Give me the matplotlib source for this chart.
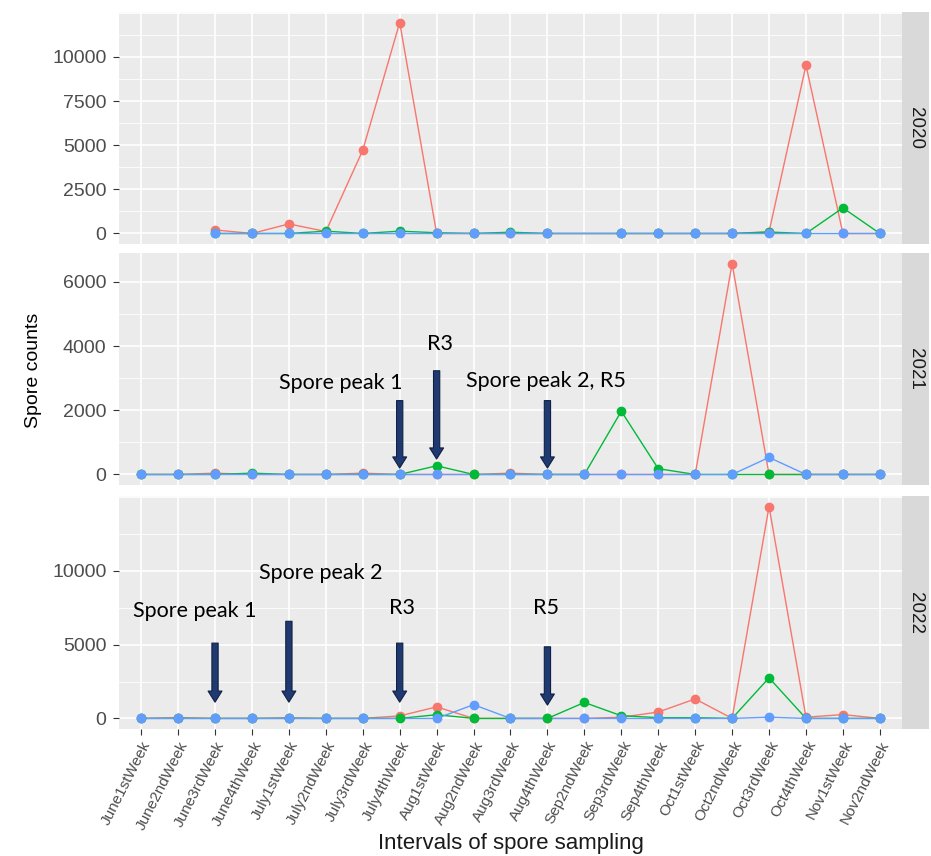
import numpy as np
import matplotlib
matplotlib.use('Agg')
import matplotlib.pyplot as plt

nan = np.nan

# sampling intervals (x categories)
weeks = ['June1stWeek', 'June2ndWeek', 'June3rdWeek', 'June4thWeek',
         'July1stWeek', 'July2ndWeek', 'July3rdWeek', 'July4thWeek',
         'Aug1stWeek', 'Aug2ndWeek', 'Aug3rdWeek', 'Aug4thWeek',
         'Sep2ndWeek', 'Sep3rdWeek', 'Sep4thWeek', 'Oct1stWeek',
         'Oct2ndWeek', 'Oct3rdWeek', 'Oct4thWeek', 'Nov1stWeek', 'Nov2ndWeek']
years = ['2020', '2021', '2022']

red_2020 = [nan, nan, 200, 0, 540, 110, 4720, 11950, 0, 0, 0, 0, nan, 0, 0, 0, 0, 90, 9530, 0, 0]
green_2020 = [nan, nan, 0, 0, 0, 130, 0, 130, 40, 0, 70, 0, nan, 0, 0, 0, 0, 80, 0, 1450, 0]
blue_2020 = [nan, nan, 0, 0, 0, 0, 0, 0, 0, 0, 0, 0, nan, 0, 0, 0, 0, 0, 0, 0, 0]

red_2021 = [0, 0, 40, 0, 0, 0, 40, 0, 0, 0, 40, 0, 0, 0, 0, 0, 6570, 0, 0, 0, 0]
green_2021 = [0, 0, 0, 40, 0, 0, 0, 0, 270, 0, 0, 0, 0, 1970, 180, 0, 0, 0, 0, 0, 0]
blue_2021 = [0, 0, 0, 0, 0, 0, 0, 0, 0, nan, 0, 0, 0, 0, 0, 0, 0, 530, 0, 0, 0]

red_2022 = [0, 60, 0, 0, 50, 0, 0, 170, 780, 0, 0, 0, 0, 80, 430, 1320, 0, 14350, 80, 260, 0]
green_2022 = [0, 0, 0, 0, 0, 0, 0, 0, 250, 0, 0, 0, 1080, 180, 50, 50, 0, 2750, 0, 0, 0]
blue_2022 = [0, 0, 0, 0, 0, 0, 0, nan, 0, 930, 0, nan, 0, 0, 0, 0, 0, 80, 0, 0, 0]

y_ticks = {'2020': [0, 2500, 5000, 7500, 10000],
           '2021': [0, 2000, 4000, 6000],
           '2022': [0, 5000, 10000]}

series = {'2020': [red_2020, green_2020, blue_2020],
          '2021': [red_2021, green_2021, blue_2021],
          '2022': [red_2022, green_2022, blue_2022]}
colors = ['#F8766D', '#00BA38', '#619CFF']

# annotations: (text, week, y) and arrows: (week, y_tail, y_head)
notes = {
    '2021': {'text': [('Spore peak 1', 5.4, 2860), ('R3', 8.08, 4060), ('Spore peak 2, R5', 10.95, 2920)],
             'arrows': [(7, 2300, 200), (8, 3230, 480), (11, 2300, 200)]},
    '2022': {'text': [('Spore peak 1', 1.45, 7250), ('Spore peak 2', 4.85, 9820),
                      ('R3', 7.05, 7460), ('R5', 10.95, 7460)],
             'arrows': [(2, 5100, 1100), (4, 6580, 1100), (7, 5100, 1100), (11, 4850, 900)]},
}

GG = 'Liberation Sans'
plt.rcParams['font.family'] = GG
fig = plt.figure(figsize=(9.31, 8.56), dpi=100)

W, H = 931, 856
left, right = 119, 902
panels = [(12, 244), (253, 485), (496, 729)]
x = np.arange(len(weeks))

for i, (yr, (top, bot)) in enumerate(zip(years, panels)):
    ax = fig.add_axes([left / W, 1 - bot / H, (right - left) / W, (bot - top) / H])
    ax.set_facecolor('#EBEBEB')
    for s in ax.spines.values():
        s.set_visible(False)

    vals = np.array(series[yr], dtype=float)
    lo, hi = np.nanmin(vals), np.nanmax(vals)
    pad = 0.05 * (hi - lo)
    ax.set_ylim(lo - pad, hi + pad)
    ax.set_xlim(-0.6, len(weeks) - 0.4)

    ticks = y_ticks[yr]
    step = ticks[1] - ticks[0]
    minors = np.arange(ticks[0] + step / 2, hi + pad, step)
    majors_all = np.arange(ticks[0], hi + pad, step)
    for m in minors:
        ax.axhline(m, color='white', lw=0.6, zorder=0)
    for m in majors_all:
        ax.axhline(m, color='white', lw=1.2, zorder=0)
    for xi in x:
        ax.axvline(xi, color='white', lw=1.2, zorder=0)

    for v, c in zip(series[yr], colors):
        v = np.array(v, dtype=float)
        m = ~np.isnan(v)
        ax.plot(x[m], v[m], color=c, lw=1.0, zorder=2)
    for v, c in zip(series[yr], colors):
        v = np.array(v, dtype=float)
        m = ~np.isnan(v)
        ax.plot(x[m], v[m], 'o', color=c, ms=6, zorder=3)

    ax.set_yticks(ticks)
    ax.set_yticklabels([str(t) for t in ticks], fontfamily=GG)
    ax.tick_params(axis='y', length=4, color='#333333', labelcolor='#4D4D4D', labelsize=14, pad=5)
    ax.set_xticks(x)
    if i == 2:
        ax.set_xticklabels(weeks, rotation=63, ha='right', va='top', rotation_mode='anchor', fontfamily=GG)
        ax.tick_params(axis='x', length=4, color='#333333', labelcolor='#4D4D4D', labelsize=11, pad=3)
    else:
        ax.set_xticklabels([])
        ax.tick_params(axis='x', length=0)

    if yr in notes:
        for txt, xx, yy in notes[yr]['text']:
            ax.text(xx, yy, txt, ha='center', va='center', fontsize=15.5,
                    fontfamily='Lato', color='black', zorder=5)
        for xx, yt, yh in notes[yr]['arrows']:
            ax.annotate('', xy=(xx, yh), xytext=(xx, yt), zorder=5,
                        arrowprops=dict(arrowstyle='simple,head_length=0.8,head_width=1.0,tail_width=0.45',
                                        fc='#1F3A70', ec='#101F45', lw=0.8,
                                        shrinkA=0, shrinkB=0))

    # facet strip
    sax = fig.add_axes([right / W, 1 - bot / H, 27 / W, (bot - top) / H])
    sax.set_facecolor('#D9D9D9')
    sax.set_xticks([])
    sax.set_yticks([])
    for s in sax.spines.values():
        s.set_visible(False)
    sax.text(0.5, 0.5, yr, rotation=-90, ha='center', va='center', fontsize=13.5,
             fontfamily=GG, color='#1A1A1A', transform=sax.transAxes)

fig.text(33 / W, 1 - 370 / H, 'Spore counts', rotation=90, ha='center', va='center', fontsize=14,
         fontfamily=GG, color='black')
fig.text((left + right) / 2 / W, 1 - 843 / H, 'Intervals of spore sampling', ha='center', va='center',
         fontsize=16, fontfamily=GG, color='#1A1A1A')

fig.savefig('out.png', dpi=100)
